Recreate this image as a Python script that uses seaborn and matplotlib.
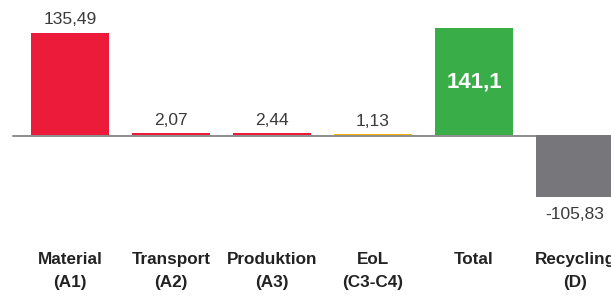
import matplotlib
matplotlib.use("Agg")
import matplotlib.pyplot as plt
import matplotlib.transforms as mtransforms
import pandas as pd
import seaborn as sns

# data
categories = ["Material\n(A1)", "Transport\n(A2)", "Produktion\n(A3)",
              "EoL\n(C3-C4)", "Total", "Recycling\n(D)"]
values = [135.49, 2.07, 2.44, 1.13, 141.1, -105.83]
value_labels = ["135,49", "2,07", "2,44", "1,13", "141,1", "-105,83"]
colors = ["#ED1B3A", "#ED1B3A", "#ED1B3A", "#F2B200", "#39AD48", "#77777B"]

sns.set_style("white")
plt.rcParams["font.family"] = ["Liberation Sans", "DejaVu Sans"]

df = pd.DataFrame({"cat": categories, "val": values})

fig = plt.figure(figsize=(6.11, 3.08), dpi=100)
ax = fig.add_axes([0, 0.3604, 1, 0.6396])

sns.barplot(data=df, x="cat", y="val", hue="cat", palette=colors,
            legend=False, width=0.78, saturation=1, ax=ax, zorder=2,
            linewidth=0, edgecolor="none")

ax.set_xlim(-0.693, 5.356)
ax.set_ylim(-82.1, 178.8)
# baseline sits just under the bars
ax.axhline(-0.9, xmin=13 / 611, xmax=1, color="#8C8C8C", lw=1.4, zorder=1)

for i, (v, lab) in enumerate(zip(values, value_labels)):
    if categories[i] == "Total":
        ax.text(i, v / 2, lab, ha="center", va="center", color="white",
                fontsize=16, fontweight="bold")
    elif v < 0:
        ax.text(i, v, lab, ha="center", va="center", color="#3A3A3A",
                fontsize=12.5, clip_on=False)
    else:
        ax.annotate(lab, (i, v), xytext=(0, 4), textcoords="offset points",
                    ha="center", va="bottom", color="#3A3A3A", fontsize=12.5)

trans = mtransforms.blended_transform_factory(ax.transData, fig.transFigure)
for i, c in enumerate(categories):
    ax.text(i, 1 - 252 / 308, c, transform=trans, ha="center", va="top",
            fontsize=12.3, fontweight="bold", color="#222222", linespacing=1.65,
            clip_on=False)

ax.set_xticks([])
ax.set_yticks([])
ax.set_xlabel("")
ax.set_ylabel("")
sns.despine(ax=ax, left=True, bottom=True)

fig.savefig("out.png", dpi=100)
